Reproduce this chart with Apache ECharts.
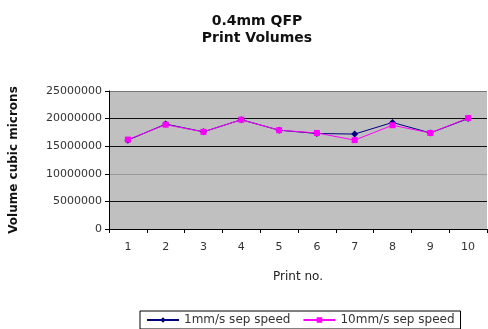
<!DOCTYPE html>
<html><head><meta charset="utf-8">
<script src="https://cdn.jsdelivr.net/npm/echarts@6/dist/echarts.min.js"></script>
<style>html,body{margin:0;padding:0;background:#fff}#c{width:488px;height:329px}</style>
</head><body><div id="c"></div>
<script>
var categories = ['1','2','3','4','5','6','7','8','9','10'];
var series1Name = '1mm/s sep speed';
var series2Name = '10mm/s sep speed';
var series1 = [16100000, 19000000, 17600000, 19800000, 17900000, 17300000, 17200000, 19300000, 17400000, 20000000];
var series2 = [16200000, 18900000, 17600000, 19800000, 17900000, 17400000, 16100000, 18800000, 17400000, 20100000];
var yTicks = {min: 0, max: 25000000, interval: 5000000};

var chart = echarts.init(document.getElementById('c'), null, {renderer: 'canvas'});
var font = '"DejaVu Sans", Arial, sans-serif';
chart.setOption({
  animation: false,
  backgroundColor: '#fff',
  title: {
    text: '0.4mm QFP\nPrint Volumes',
    left: 252, top: 8, textAlign: 'center',
    textStyle: {fontFamily: font, fontSize: 14, fontWeight: 'bold', color: '#111', lineHeight: 17}
  },
  grid: {left: 107, right: 1, top: 91, bottom: 100, backgroundColor: '#c0c0c0', show: true, borderWidth: 0},
  xAxis: {
    type: 'category', data: categories, boundaryGap: true,
    name: 'Print no.', nameLocation: 'middle', nameGap: 42,
    nameTextStyle: {fontFamily: font, fontSize: 12, color: '#222'},
    axisLine: {lineStyle: {color: '#000', width: 1}},
    axisTick: {show: true, alignWithLabel: false, length: 4, lineStyle: {color: '#000'}},
    axisLabel: {fontFamily: font, fontSize: 11, color: '#333', margin: 13}
  },
  yAxis: {
    type: 'value', min: yTicks.min, max: yTicks.max, interval: yTicks.interval,
    name: 'Volume cubic microns', nameLocation: 'middle', nameGap: 89, nameRotate: 90,
    nameTextStyle: {fontFamily: font, fontSize: 12, fontWeight: 'bold', color: '#111'},
    axisLine: {show: true, lineStyle: {color: '#000', width: 1}},
    axisTick: {show: true, length: 4, lineStyle: {color: '#000'}},
    axisLabel: {fontFamily: font, fontSize: 11, color: '#333', margin: 7,
      formatter: function (v) { return String(v); }},
    splitLine: {show: true, lineStyle: {color: ['#000', '#111', '#999', '#111', '#111', '#777'], width: 1}}
  },
  legend: {
    top: 311, left: 140,
    data: [series1Name, series2Name],
    itemWidth: 32, itemHeight: 7, itemGap: 12,
    borderColor: '#000', borderWidth: 1, padding: [3, 6, 3, 6],
    textStyle: {fontFamily: font, fontSize: 12, color: '#333'}
  },
  series: [
    {name: series1Name, type: 'line', data: series1, symbol: 'diamond', symbolSize: 7,
     lineStyle: {color: '#000080', width: 1}, itemStyle: {color: '#000080'}},
    {name: series2Name, type: 'line', data: series2, symbol: 'rect', symbolSize: 6,
     lineStyle: {color: '#ff00ff', width: 1}, itemStyle: {color: '#ff00ff'}}
  ]
});
</script></body></html>
